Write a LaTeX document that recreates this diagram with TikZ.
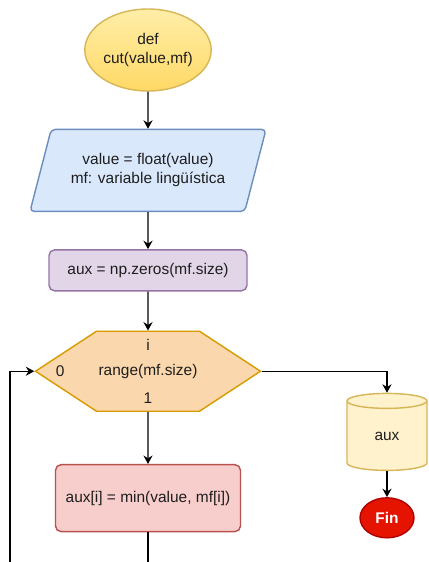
\documentclass[tikz,border=0pt]{standalone}
\usepackage{fontspec}
\setmainfont{Liberation Sans}
\usetikzlibrary{positioning,shapes.geometric,shapes.symbols,arrows.meta}

\definecolor{ink}{HTML}{1E1E1E}
\definecolor{startlight}{HTML}{FFEEA8}
\definecolor{startdark}{HTML}{FFD966}
\definecolor{startline}{HTML}{D6B656}
\definecolor{iofill}{HTML}{DAE8FC}
\definecolor{ioline}{HTML}{6C8EBF}
\definecolor{initfill}{HTML}{E1D5E7}
\definecolor{initline}{HTML}{9673A6}
\definecolor{loopfill}{HTML}{FAD7AC}
\definecolor{loopline}{HTML}{D79B00}
\definecolor{bodyfill}{HTML}{F8CECC}
\definecolor{bodyline}{HTML}{B85450}
\definecolor{storefill}{HTML}{FFF2CC}
\definecolor{finfill}{HTML}{E51400}
\definecolor{finline}{HTML}{B20000}

\begin{document}
\begin{tikzpicture}[
  every node/.style={font=\fontsize{11}{13.5}\selectfont, text=ink},
  startnode/.style={ellipse, draw=startline, top color=startlight, bottom color=startdark,
                    minimum width=3.025cm, minimum height=2.05cm, inner sep=0pt, align=center},
  io/.style={trapezium, trapezium left angle=57.6, trapezium right angle=122.4,
             trapezium stretches body=true, draw=ioline, fill=iofill, rounded corners=3pt,
             minimum width=5.9cm, minimum height=2.05cm, inner sep=0pt, align=center},
  proc/.style={rectangle, rounded corners=4pt, align=center, inner sep=0pt},
  hexa/.style={signal, signal to=west and east, signal pointer angle=66.5,
               draw=loopline, fill=loopfill, minimum width=5.625cm,
               minimum height=2cm, inner sep=0pt},
  store/.style={cylinder, shape border rotate=90, aspect=0.6, draw=startline,
                fill=storefill, minimum width=2cm, minimum height=1.925cm, inner sep=0pt},
  finnode/.style={ellipse, draw=finline, fill=finfill, text=white, font=\fontsize{11}{13.5}\selectfont\bfseries,
                  minimum width=1.35cm, minimum height=1cm, inner sep=0pt},
  arr/.style={-{Stealth[length=6pt,width=6.5pt,inset=2pt]}, line width=1pt, draw=black},
  line width=1pt
]

\useasboundingbox (0,0) rectangle (10.7,-14.05);
\clip (0,0) rectangle (10.7,-14.05);

\node[startnode]                       (start) at (3.7,-1.25) {def\\cut(value,mf)};
\node[io, below=0.925cm of start]      (io)    {value = float(value)\\mf: variable lingüística};
\node[proc, draw=initline, fill=initfill, minimum width=4.95cm, minimum height=1.025cm,
      below=0.925cm of io]             (init)  {aux = np.zeros(mf.size)};
\node[hexa, below=0.975cm of init]     (loop)  {range(mf.size)};
\node[proc, draw=bodyline, fill=bodyfill, minimum width=4.625cm, minimum height=1.675cm,
      below=1.3cm of loop]             (body)  {aux[i] = min(value, mf[i])};

% loop counter marks inside the hexagon
\node (idx)   at ([yshift=-0.35cm]loop.north) {i};
\node (first) at ([xshift=0.65cm]loop.west)   {0};
\node (incr)  at ([yshift=0.35cm]loop.south)  {1};

\node[store]                           (aux)   at (9.675,-10.9) {aux};
\node[finnode, below=0.65cm of aux]    (fin)   {Fin};

\draw[arr] (start) -- (io);
\draw[arr] (io)    -- (init);
\draw[arr] (init)  -- (loop);
\draw[arr] (loop)  -- (body);
\draw[arr] (loop.east) -| (aux);
\draw[arr] (aux)   -- (fin);

% back edge, it turns below the bottom border
\coordinate (turn) at (0.25,-15);
\draw[arr] (body) -- (body |- turn) -- (turn) |- (loop.west);

\end{tikzpicture}
\end{document}
